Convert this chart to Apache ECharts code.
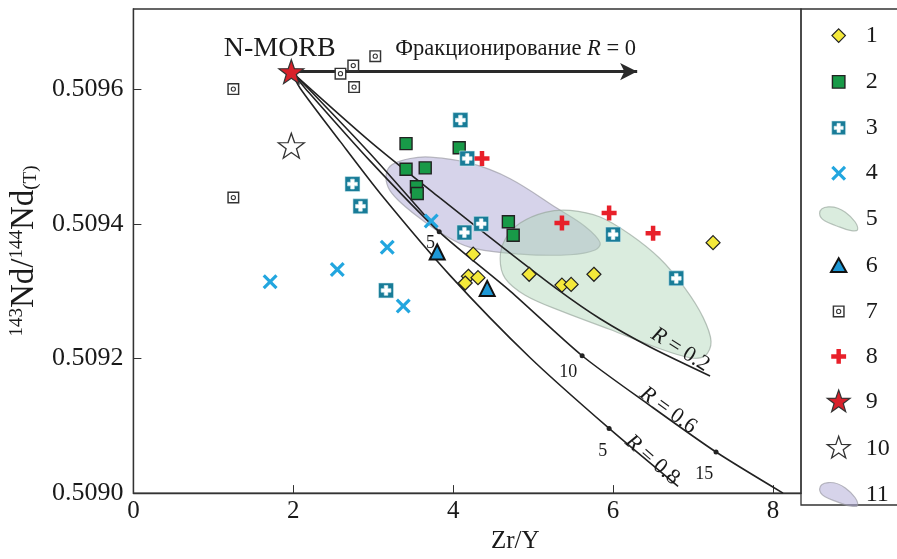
<!DOCTYPE html>
<html><head><meta charset="utf-8">
<script src="https://cdn.jsdelivr.net/npm/echarts@6/dist/echarts.min.js"></script>
<style>html,body{margin:0;padding:0;background:#fff}#c{width:897px;height:559px}</style>
</head><body><div id="c"></div>
<script>
// ---------- data ----------
const s1 = [[4.25,0.509355],[4.19,0.509322],[4.31,0.509320],[4.15,0.509312],[4.95,0.509325],[5.36,0.509309],[5.475,0.509310],[5.76,0.509325],[7.25,0.509372]];
const s2 = [[3.41,0.509519],[4.075,0.509513],[3.41,0.509481],[3.65,0.509483],[3.54,0.509455],[3.55,0.509445],[4.69,0.509403],[4.75,0.509383]];
const s3 = [[4.09,0.509554],[4.175,0.509497],[2.74,0.509459],[2.84,0.509426],[4.35,0.509400],[4.14,0.509387],[6.0,0.509384],[6.79,0.509319],[3.16,0.509301]];
const s4 = [[3.725,0.509404],[3.175,0.509365],[2.55,0.509332],[1.71,0.509314],[3.375,0.509278]];
const s6 = [[3.8,0.509358],[4.425,0.509304]];
const s7 = [[1.25,0.509600],[1.25,0.509439],[2.59,0.509623],[2.75,0.509635],[2.76,0.509603],[3.025,0.509649]];
const s8 = [[4.36,0.509497],[5.36,0.509401],[5.95,0.509416],[6.5,0.509386]];
const s9 = [[1.975,0.509626]];
const s10 = [[1.975,0.509516]];
// fields (outlines)
const field5 = [[4.5875,0.509348],[4.65,0.509377],[4.8375,0.509401],[5.15,0.509417],[5.4625,0.509420],[5.8375,0.509410],[6.2125,0.509384],[6.5875,0.509348],[6.9,0.509304],[7.125,0.509261],[7.225,0.509225],[7.15,0.509204],[6.9625,0.509201],[6.525,0.509217],[5.9625,0.509243],[5.3375,0.509271],[4.9,0.509294],[4.65,0.509319]];
const field11 = [[3.1625,0.509474],[3.2375,0.509488],[3.4625,0.509497],[3.7125,0.509499],[4.2125,0.509490],[4.7125,0.509467],[5.3,0.509423],[5.65,0.509396],[5.8375,0.509372],[5.775,0.509361],[5.4625,0.509354],[4.8375,0.509355],[4.2125,0.509365],[3.8375,0.509387],[3.5625,0.509410],[3.3125,0.509435],[3.1875,0.509454]];
// model curves
const curveR02 = [[1.975,0.509626],[2.9625,0.509522],[3.8375,0.509438],[4.5875,0.509368],[5.3,0.509303],[5.8375,0.509259],[6.4625,0.509217],[7.2125,0.509174]];
const curveR06 = [[1.975,0.509626],[2.15,0.509601],[2.9625,0.509493],[3.825,0.509388],[4.7125,0.509300],[5.6125,0.509204],[6.4625,0.509130],[7.2875,0.509061],[8.125,0.509000]];
const curveR08 = [[1.975,0.509626],[2.0875,0.509601],[2.5875,0.509522],[3.0875,0.509445],[3.9625,0.509323],[4.9625,0.509201],[5.95,0.509096],[6.8125,0.509010]];
const curveExtra = [[1.975,0.509626],[2.1875,0.509601],[2.9625,0.509504],[3.825,0.509388]];
const curveDots = [[3.825,0.509388],[5.6125,0.509204],[7.2875,0.509061],[5.95,0.509096]];
const arrowR0 = [[1.975,0.509626],[6.3,0.509626]];
// annotations
const annoText = ['N-MORB','Фракционирование {i|R} = 0','{i|R} = 0.2','{i|R} = 0.6','{i|R} = 0.8','5','10','15','5'];
const annoX = [1.83,3.275,6.84,6.69,6.49,3.715,5.44,7.14,5.87];
const annoY = [0.50966,0.50966,0.509213,0.509123,0.509049,0.509371,0.509179,0.509028,0.509062];
const legendNames = ['1','2','3','4','5','6','7','8','9','10','11'];
const xMin = 0, xMax = 8.35, xStep = 2;
const yMin = 0.5090, yMax = 0.509719, yStep = 0.0002;
const xName = 'Zr/Y';

// ---------- symbols (0..100 box) ----------
const SH = {
  diamond: 'M50,22 L78,50 L50,78 L22,50 Z',
  square: 'M24,24 L76,24 L76,76 L24,76 Z',
  teal: 'M21,21 L79,21 L79,79 L21,79 Z M43,31 L43,43 L31,43 L31,57 L43,57 L43,69 L57,69 L57,57 L69,57 L69,43 L57,43 L57,31 Z',
  cross: 'M19,28.3 L28.3,19 L50,40.7 L71.7,19 L81,28.3 L59.3,50 L81,71.7 L71.7,81 L50,59.3 L28.3,81 L19,71.7 L40.7,50 Z',
  tri: 'M50,20 L82,78 L18,78 Z',
  box: 'M25,25 L75,25 L75,75 L25,75 Z M31,31 L31,69 L69,69 L69,31 Z M61,50 A11,11 0 1,1 39,50 A11,11 0 1,1 61,50 Z M56.5,50 A6.5,6.5 0 1,0 43.5,50 A6.5,6.5 0 1,0 56.5,50 Z',
  plus: 'M40.7,19 L59.3,19 L59.3,40.7 L81,40.7 L81,59.3 L59.3,59.3 L59.3,81 L40.7,81 L40.7,59.3 L19,59.3 L19,40.7 L40.7,40.7 Z',
  star: 'M50,0 L61.76,33.82 L97.55,34.55 L69.02,56.18 L79.39,90.45 L50,70 L20.61,90.45 L30.98,56.18 L2.45,34.55 L38.24,33.82 Z',
  blob: 'M5,35 C5,5 60,0 100,30 C130,52 150,80 145,95 C140,102 110,98 80,85 C40,70 5,60 5,35 Z'
};
const P = k => 'path://' + SH[k];
const L = k => 'path://M0,0 M100,100 ' + SH[k];

const FONT = 'Liberation Serif';
const INK = '#1a1a1a';
const chart = echarts.init(document.getElementById('c'));

function polyRender(pts) {
  return function (params, api) {
    if (params.dataIndex !== 0) return null;
    return { type: 'polygon', shape: { points: pts.map(p => api.coord(p)), smooth: 0.35 }, style: api.style() };
  };
}
const curveStyle = { color: '#222', width: 1.6 };
function curve(d) {
  return { type: 'line', data: d, showSymbol: false, smooth: 0.25, lineStyle: curveStyle, silent: true, z: 3, animation: false };
}
function sc(name, data, symbol, size, style, z) {
  return { type: 'scatter', name: name, data: data, symbol: symbol, symbolSize: size,
    itemStyle: Object.assign({ opacity: 1 }, style), emphasis: { disabled: true }, z: z || 5, animation: false };
}

const option = {
  animation: false,
  backgroundColor: '#fff',
  grid: { left: 133, right: 96, top: 9, bottom: 54, show: true, borderColor: '#333', borderWidth: 1.3 },
  xAxis: {
    type: 'value', min: xMin, max: xMax, interval: xStep,
    name: xName, nameLocation: 'middle', nameGap: 30,
    nameTextStyle: { fontFamily: FONT, fontSize: 25, color: INK, padding: [0, 0, 0, 96] },
    axisLine: { lineStyle: { color: '#333', width: 1.3 } },
    axisTick: { inside: true, length: 8, lineStyle: { color: '#333' } },
    axisLabel: { fontFamily: FONT, fontSize: 25, color: INK, margin: 6, showMaxLabel: false },
    splitLine: { show: false }
  },
  yAxis: {
    type: 'value', min: yMin, max: yMax, interval: yStep,
    name: '{sup|143}Nd/{sup|144}Nd{sub|(T)}', nameLocation: 'middle', nameGap: 80, nameRotate: 90,
    nameTextStyle: {
      fontFamily: FONT, fontSize: 33, color: INK,
      rich: {
        sup: { fontFamily: FONT, fontSize: 19, verticalAlign: 'top', color: INK, padding: [0, 0, 13, 0] },
        sub: { fontFamily: FONT, fontSize: 19, verticalAlign: 'bottom', color: INK, padding: [13, 0, 0, 0] }
      }
    },
    axisLine: { lineStyle: { color: '#333', width: 1.3 } },
    axisTick: { inside: true, length: 8, lineStyle: { color: '#333' } },
    axisLabel: { fontFamily: FONT, fontSize: 26, color: INK, margin: 10, showMaxLabel: false, formatter: v => v.toFixed(4) },
    splitLine: { show: false }
  },
  legend: {
    orient: 'vertical', left: 814, top: 18, itemWidth: 44, itemHeight: 24, itemGap: 21,
    symbolKeepAspect: true, selectedMode: false,
    itemStyle: { borderWidth: 'inherit' },
    textStyle: { fontFamily: FONT, fontSize: 24, color: INK, lineHeight: 24 },
    data: [
      { name: '1', icon: L('diamond') }, { name: '2', icon: L('square') }, { name: '3', icon: L('teal') },
      { name: '4', icon: L('cross') }, { name: '5', icon: 'path://' + SH.blob }, { name: '6', icon: L('tri') },
      { name: '7', icon: L('box') }, { name: '8', icon: L('plus') }, { name: '9', icon: L('star') },
      { name: '10', icon: L('star') }, { name: '11', icon: 'path://' + SH.blob }
    ]
  },
  graphic: [
    { type: 'rect', shape: { x: 801, y: 9, width: 100, height: 496 }, style: { fill: 'none', stroke: '#333', lineWidth: 1.3 }, silent: true }
  ],
  series: [
    { type: 'custom', name: '11', data: field11, renderItem: polyRender(field11), z: 1, silent: true,
      itemStyle: { color: 'rgba(176,170,214,0.52)', borderColor: 'rgba(150,150,160,0.65)', borderWidth: 1.2 } },
    { type: 'custom', name: '5', data: field5, renderItem: polyRender(field5), z: 1, silent: true,
      itemStyle: { color: 'rgba(172,212,182,0.45)', borderColor: 'rgba(150,165,155,0.65)', borderWidth: 1.2 } },
    curve(curveR02), curve(curveR06), curve(curveR08), curve(curveExtra),
    { type: 'line', data: arrowR0, showSymbol: false, lineStyle: { color: '#2a2a2a', width: 3 }, z: 3, silent: true,
      markLine: { silent: true, symbol: ['none', 'arrow'], symbolSize: [13, 17], label: { show: false },
        lineStyle: { color: '#2a2a2a', width: 3, type: 'solid' },
        data: [[{ coord: arrowR0[0] }, { coord: arrowR0[1] }]] } },
    sc('', curveDots, 'circle', 5, { color: '#222' }, 4),
    // white backing for symbols with holes
    sc('', s7, 'rect', 11, { color: '#fff' }, 5),
    sc('', s3, 'rect', 13, { color: '#fff' }, 5),
    sc('7', s7, P('box'), 12, { color: '#333' }, 6),
    sc('2', s2, 'rect', 12, { color: '#189a48', borderColor: '#222', borderWidth: 1.4 }, 6),
    sc('3', s3, P('teal'), 15, { color: '#187c98', borderColor: '#d8eef2', borderWidth: 0.6 }, 6),
    sc('4', s4, P('cross'), 15, { color: '#22a6df' }, 6),
    sc('8', s8, P('plus'), 15, { color: '#e8202a' }, 6),
    sc('1', s1, 'diamond', 14, { color: '#f4e93a', borderColor: '#222', borderWidth: 1.2 }, 6),
    sc('6', s6, 'triangle', 15, { color: '#1d98d6', borderColor: '#111', borderWidth: 2 }, 6),
    sc('10', s10, P('star'), [26, 25], { color: '#fff', borderColor: '#333', borderWidth: 1.3 }, 6),
    sc('9', s9, P('star'), [25, 24], { color: '#d8212b', borderColor: '#333', borderWidth: 1.2 }, 7),
    { type: 'scatter', symbolSize: 0, silent: true, z: 8, itemStyle: { color: 'transparent', opacity: 1 },
      data: annoText.map((t, i) => {
        const base = { fontFamily: FONT, color: INK, rich: { i: { fontFamily: FONT, fontStyle: 'italic', fontSize: 22, color: INK } } };
        let lab;
        if (i === 0) lab = Object.assign({}, base, { fontSize: 28, align: 'center' });
        else if (i === 1) lab = Object.assign({}, base, { fontSize: 22.5, align: 'left', rich: { i: { fontFamily: FONT, fontStyle: 'italic', fontSize: 22.5, color: INK } } });
        else if (i === 2) lab = Object.assign({}, base, { fontSize: 22, rotate: -32 });
        else if (i === 3) lab = Object.assign({}, base, { fontSize: 22, rotate: -36 });
        else if (i === 4) lab = Object.assign({}, base, { fontSize: 22, rotate: -41 });
        else lab = Object.assign({}, base, { fontSize: 18 });
        return { name: t, value: [annoX[i], annoY[i]], label: Object.assign({ show: true, position: 'inside', formatter: '{b}', verticalAlign: 'middle', opacity: 1 }, lab) };
      })
    }
  ]
};
chart.setOption(option);
</script></body></html>
